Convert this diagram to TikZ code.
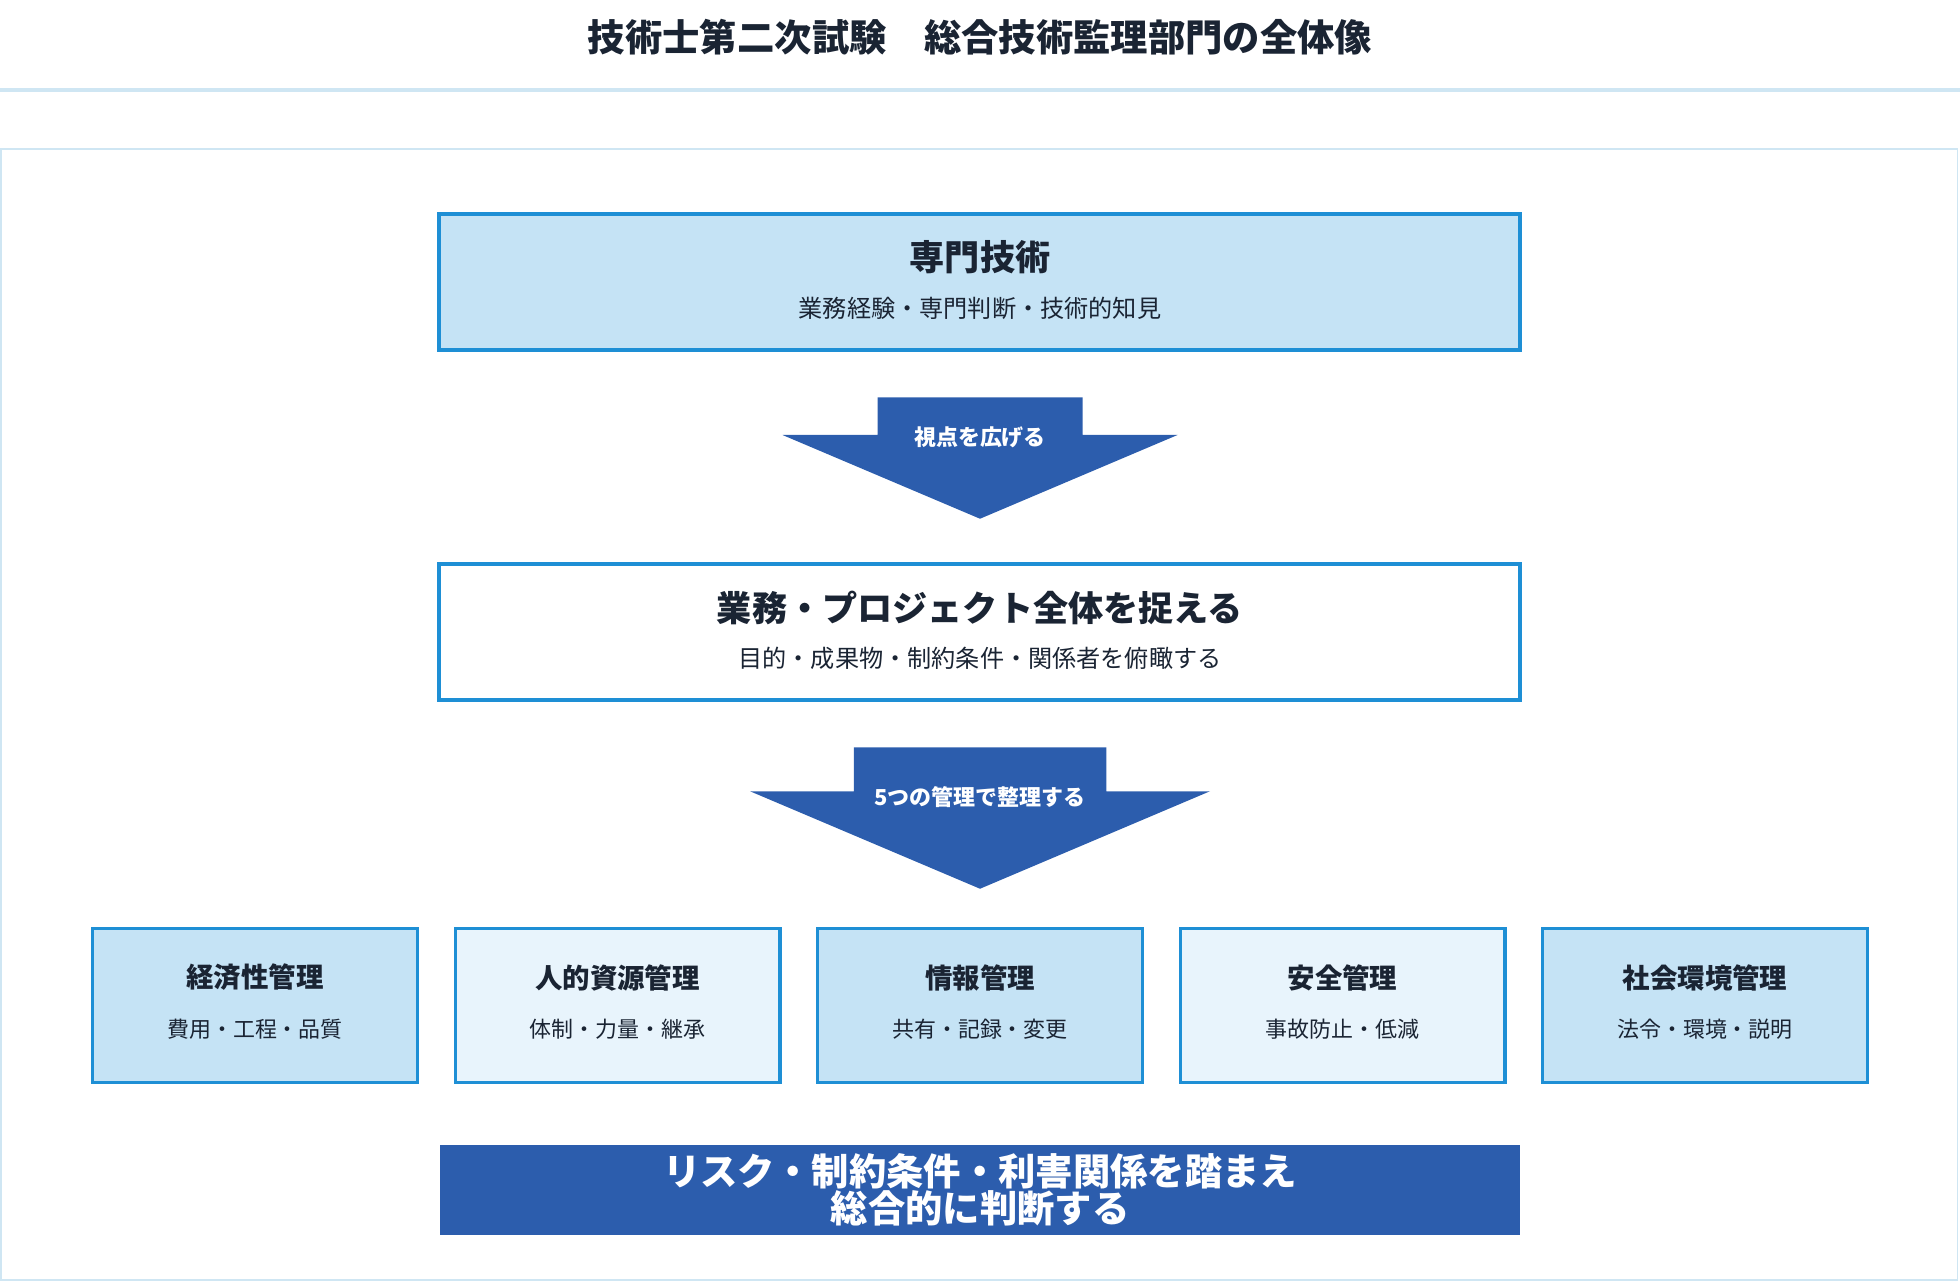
\documentclass[tikz,border=0pt]{standalone}
\usepackage{fontspec}
\setmainfont{Noto Sans CJK JP}
\usetikzlibrary{positioning}
\definecolor{edgeblue}{HTML}{1E8FD5}
\definecolor{paleblue}{HTML}{C5E3F5}
\definecolor{iceblue}{HTML}{E8F4FC}
\definecolor{deepblue}{HTML}{2C5DAD}
\definecolor{frameblue}{HTML}{CFE6F3}
\definecolor{ink}{HTML}{1A2433}
\tikzset{
  topbox/.style={draw=edgeblue, line width=1.6pt, minimum width=17.3cm, minimum height=2.18cm},
  mgmt/.style={draw=edgeblue, line width=1.4pt, minimum width=5.2cm, minimum height=2.46cm},
  ttl/.style={font=\bfseries\fontsize{16}{18}\selectfont, text=ink},
  sub/.style={font=\fontsize{11}{13}\selectfont, text=ink},
  mttl/.style={font=\bfseries\fontsize{12.5}{14}\selectfont, text=ink},
  msub/.style={font=\fontsize{10}{12}\selectfont, text=ink},
  arrowtxt/.style={font=\bfseries\fontsize{10}{12}\selectfont, text=white}
}
\begin{document}
\begin{tikzpicture}[x=0.02cm, y=-0.02cm]
  \useasboundingbox (0,0) rectangle (1568,1026);
  % title
  \node[font=\bfseries\fontsize{17}{20}\selectfont, text=ink] (title) at (784,30) {技術士第二次試験\hspace{1em}総合技術監理部門の全体像};
  \draw[frameblue, line width=1.5pt] (0,72) -- (1568,72);
  \draw[frameblue, line width=0.8pt] (1,119) rectangle (1566,1024);

  % expertise
  \node[topbox, fill=paleblue] (expert) at (783.5,225.5) {};
  \node[ttl] (expertT) at (784,206) {専門技術};
  \node[sub] (expertS) at (784,247) {業務経験・専門判断・技術的知見};

  \fill[deepblue] (702,318) -- (866,318) -- (866,348) -- (942,348) -- (784,415)
    -- (626,348) -- (702,348) -- cycle;
  \node[arrowtxt] (widen) at (784,350) {視点を広げる};

  % whole project
  \node[topbox, fill=white] (whole) at (783.5,505.5) {};
  \node[ttl] (wholeT) at (784,486) {業務・プロジェクト全体を捉える};
  \node[sub] (wholeS) at (784,527) {目的・成果物・制約条件・関係者を俯瞰する};

  \fill[deepblue] (683,598) -- (885,598) -- (885,633) -- (968,633) -- (784,711)
    -- (600,633) -- (683,633) -- cycle;
  \node[arrowtxt] (sort) at (784,638) {5つの管理で整理する};

  % five managements
  \foreach \n/\x/\c/\t/\s in {econ/204/paleblue/経済性管理/費用・工程・品質,
      human/494/iceblue/人的資源管理/体制・力量・継承,
      info/784/paleblue/情報管理/共有・記録・変更,
      safe/1074/iceblue/安全管理/事故防止・低減,
      env/1364/paleblue/社会環境管理/法令・環境・説明}{
    \node[mgmt, fill=\c] (\n) at (\x,804.5) {};
    \node[mttl] (\n T) at (\x,782) {\t};
    \node[msub] (\n S) at (\x,823) {\s};
  }

  % conclusion
  \fill[deepblue] (352,916) rectangle (1216,988);
  \node[font=\bfseries\fontsize{17}{17}\selectfont, text=white, align=center] (judge) at (784,952)
    {リスク・制約条件・利害関係を踏まえ\\総合的に判断する};
\end{tikzpicture}
\end{document}
